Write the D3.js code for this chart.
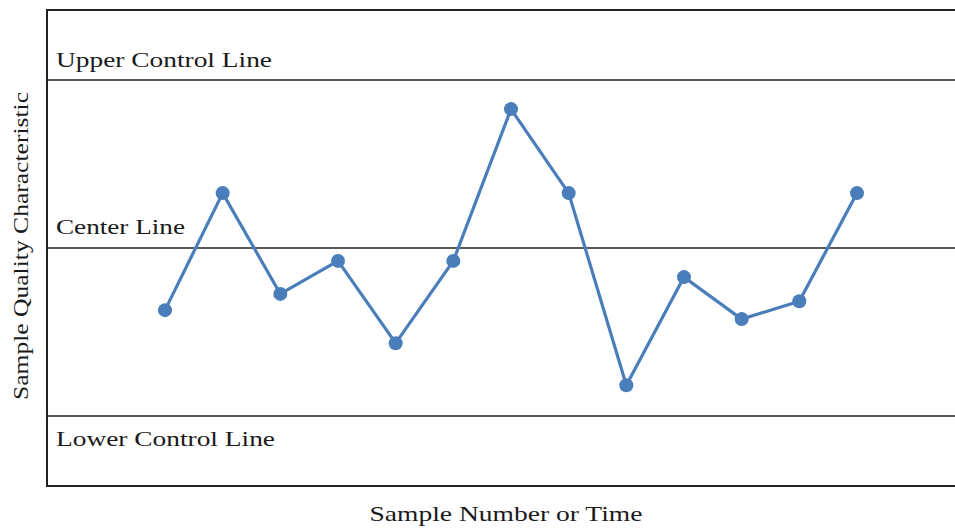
<!DOCTYPE html>
<html><head><meta charset="utf-8">
<script src="https://cdn.jsdelivr.net/npm/d3@7"></script>
<style>body{margin:0;background:#fff}svg{display:block}text{font-family:"Liberation Serif","Times New Roman",serif;fill:#1a1a1a}</style>
</head><body>
<script>
const samples = [1,2,3,4,5,6,7,8,9,10,11,12,13];
const values = [-1.11,0.98,-0.82,-0.23,-1.70,-0.23,2.48,0.98,-2.45,-0.52,-1.27,-0.95,0.98];
const controlLevels = [3, 0, -3];
const controlLabels = ["Upper Control Line","Center Line","Lower Control Line"];
const xTitle = "Sample Number or Time";
const yTitle = "Sample Quality Characteristic";

(function(){
const W=955,H=528;
const svg=d3.select("body").append("svg").attr("width",W).attr("height",H);
const mLeft=47,mRight=960,mTop=10,mBottom=486;
const x=d3.scaleLinear().domain([1,13]).range([165,857]);
const y=d3.scaleLinear().domain([-4.25,4.25]).range([mBottom,mTop]);

// frame
svg.append("path").attr("d",`M${mRight},${mTop}H${mLeft}V${mBottom}H${mRight}`)
  .attr("fill","none").attr("stroke","#222").attr("stroke-width",2);

controlLevels.forEach((v,i)=>{
  svg.append("line").attr("x1",mLeft).attr("x2",mRight).attr("y1",y(v)).attr("y2",y(v))
    .attr("stroke","#222").attr("stroke-width",1.6);
});
const labelOffsets=[-13,-14,30];
const labelLens=[216,129,219];
controlLabels.forEach((t,i)=>{
  svg.append("text").attr("x",56).attr("y",y(controlLevels[i])+labelOffsets[i])
    .attr("font-size",21).attr("textLength",labelLens[i]).attr("lengthAdjust","spacingAndGlyphs").text(t);
});

svg.append("path").datum(values)
  .attr("d",d3.line().x((d,i)=>x(samples[i])).y(d=>y(d)))
  .attr("fill","none").attr("stroke","#4a7ebb").attr("stroke-width",3.2).attr("stroke-linejoin","round");
svg.selectAll("circle.pt").data(values).join("circle").attr("class","pt")
  .attr("cx",(d,i)=>x(samples[i])).attr("cy",d=>y(d)).attr("r",7).attr("fill","#4a7ebb");

svg.append("text").attr("x",506).attr("y",521).attr("text-anchor","middle")
  .attr("font-size",21).attr("textLength",273).attr("lengthAdjust","spacingAndGlyphs").text(xTitle);
svg.append("text").attr("transform","translate(28,246) rotate(-90)").attr("text-anchor","middle")
  .attr("font-size",21).attr("textLength",308).attr("lengthAdjust","spacingAndGlyphs").text(yTitle);
})();
</script>
</body></html>
